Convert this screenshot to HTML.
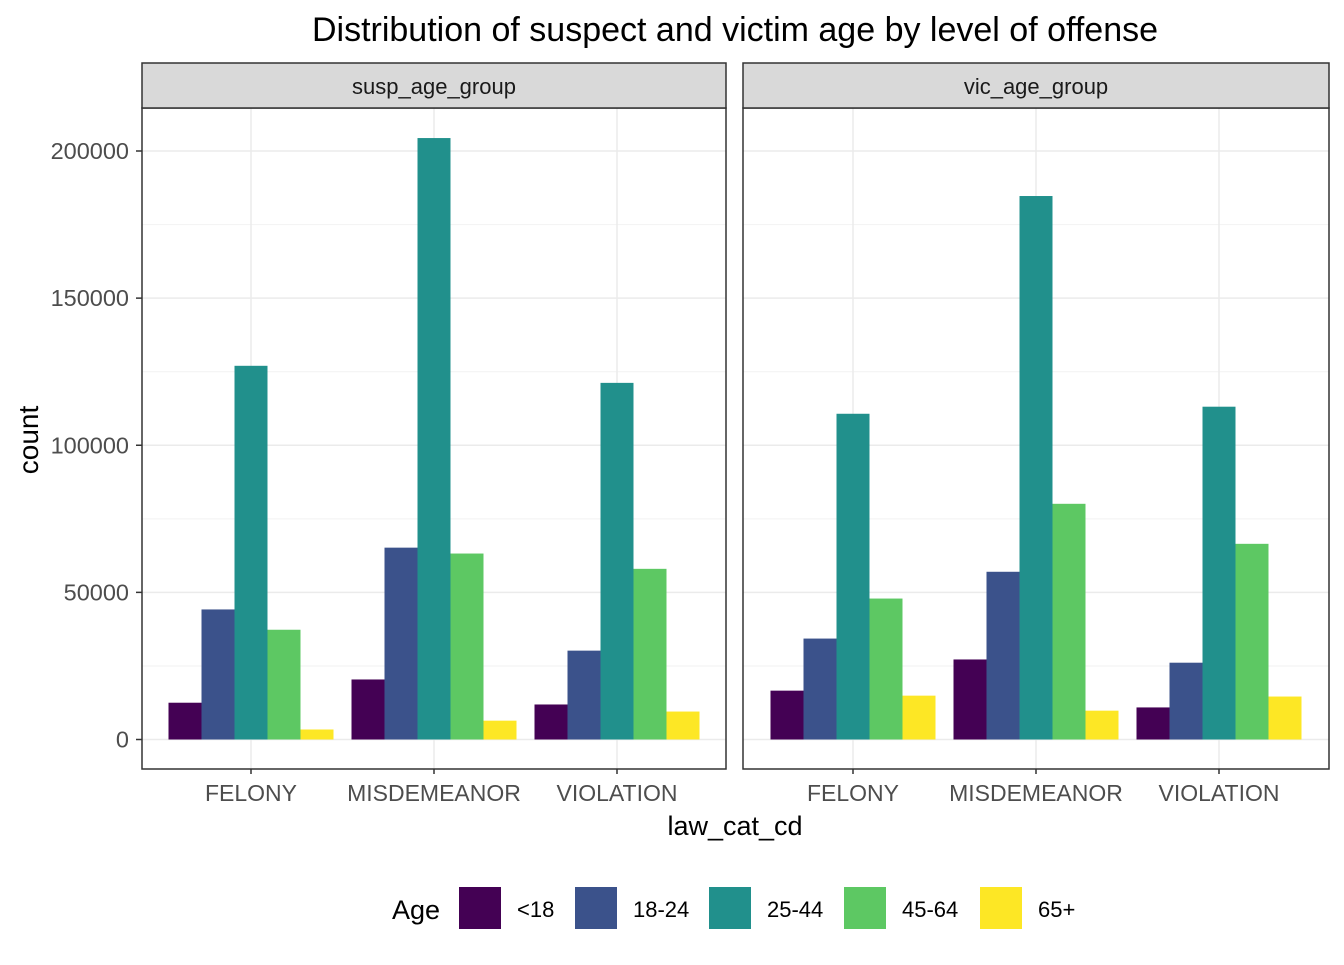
<!DOCTYPE html>
<html><head><meta charset="utf-8"><style>
body{margin:0;background:#fff}
svg text{font-family:"Liberation Sans",Arial,sans-serif}
</style></head><body>
<svg id="c" width="1344" height="960" xmlns="http://www.w3.org/2000/svg"></svg>
<script>
const categories=["FELONY","MISDEMEANOR","VIOLATION"];
const ageGroups=["<18","18-24","25-44","45-64","65+"];
const panels=["susp_age_group","vic_age_group"];
const suspValues=[[12500,44200,127000,37300,3400],[20400,65200,204400,63200,6400],[11900,30200,121200,58000,9500]];
const vicValues=[[16600,34300,110700,47900,14900],[27200,57000,184700,80100,9800],[10900,26100,113100,66500,14600]];
const yTicks=[0,50000,100000,150000,200000];
const colors=["#440154","#3B528B","#21908C","#5DC863","#FDE725"];
const NS="http://www.w3.org/2000/svg";
const svgEl=document.getElementById('c');
function mk(t,a,p){const e=document.createElementNS(NS,t);for(const k in a)e.setAttribute(k,a[k]);(p||svgEl).appendChild(e);return e;}
const y0=739.5,yTopPx=151;
function yScale(v){return y0-(v/200000)*(y0-yTopPx);}
const panelX=[[142,726],[743,1329]];
const plotTop=108,plotBottom=769;
function xCat(p,i){const [a,b]=panelX[p];return a+(b-a)/2+(i-1)*183;}
const allVals=[suspValues,vicValues];
const titleEl=mk('text',{x:735,y:41,'font-size':34,'text-anchor':'middle',fill:'#000'});
titleEl.textContent="Distribution of suspect and victim age by level of offense";


panels.forEach((name,p)=>{
  const [a,b]=panelX[p];
  const g=mk('g',{});
  
  
  for(let v=25000;v<=225000;v+=50000){const yy=yScale(v);if(yy<plotTop)continue;mk('line',{x1:a,x2:b,y1:yy,y2:yy,stroke:'#f2f2f2','stroke-width':1},g);}
  yTicks.forEach(v=>mk('line',{x1:a,x2:b,y1:yScale(v),y2:yScale(v),stroke:'#ebebeb','stroke-width':1.5},g));
  categories.forEach((c,i)=>mk('line',{x1:xCat(p,i),x2:xCat(p,i),y1:plotTop,y2:plotBottom,stroke:'#ebebeb','stroke-width':1.5},g));
  categories.forEach((c,i)=>{
    allVals[p][i].forEach((v,k)=>{
      const x=xCat(p,i)-82.5+k*33;
      const r=mk('rect',{x:x,y:yScale(v),width:33,height:y0-yScale(v),fill:colors[k]},g);
      
      
    });
    mk('line',{x1:xCat(p,i),x2:xCat(p,i),y1:plotBottom,y2:plotBottom+5,stroke:'#333','stroke-width':1.5},g);
    const tl=mk('text',{x:xCat(p,i),y:801,'font-size':23,'text-anchor':'middle',fill:'#4d4d4d'},g);
    tl.textContent=c;
    
    
  });
  mk('rect',{x:a,y:plotTop,width:b-a,height:plotBottom-plotTop,fill:'none',stroke:'#333','stroke-width':1.5},g);
  mk('rect',{x:a,y:63,width:b-a,height:45,fill:'#d9d9d9',stroke:'#333','stroke-width':1.5},g);
  const st=mk('text',{x:(a+b)/2,y:94,'font-size':22,'text-anchor':'middle',fill:'#1a1a1a'},g);
  st.textContent=name;
  
  
});
yTicks.forEach(v=>{
  mk('line',{x1:136,x2:142,y1:yScale(v),y2:yScale(v),stroke:'#333','stroke-width':1.5});
  const tl=mk('text',{x:129,y:yScale(v)+8,'font-size':23.5,'text-anchor':'end',fill:'#4d4d4d'});
  tl.textContent=v;
  
  
});
const xt=mk('text',{x:735,y:835,'font-size':27,'text-anchor':'middle',fill:'#000'});
xt.textContent='law_cat_cd';


const yt=mk('text',{x:38,y:440,'font-size':28,'text-anchor':'middle',fill:'#000',transform:'rotate(-90 38 440)'});
yt.textContent='count';


const lt=mk('text',{x:392,y:919,'font-size':27,fill:'#000'});
lt.textContent='Age';


const keyX=[459,575,709,844,980];
ageGroups.forEach((gName,k)=>{
  const e=mk('g',{});
  
  
  mk('rect',{x:keyX[k],y:887,width:42,height:42,fill:colors[k]},e);
  const tx=mk('text',{x:keyX[k]+58,y:917,'font-size':22,fill:'#000'},e);
  tx.textContent=gName;
});
</script>
</body></html>
